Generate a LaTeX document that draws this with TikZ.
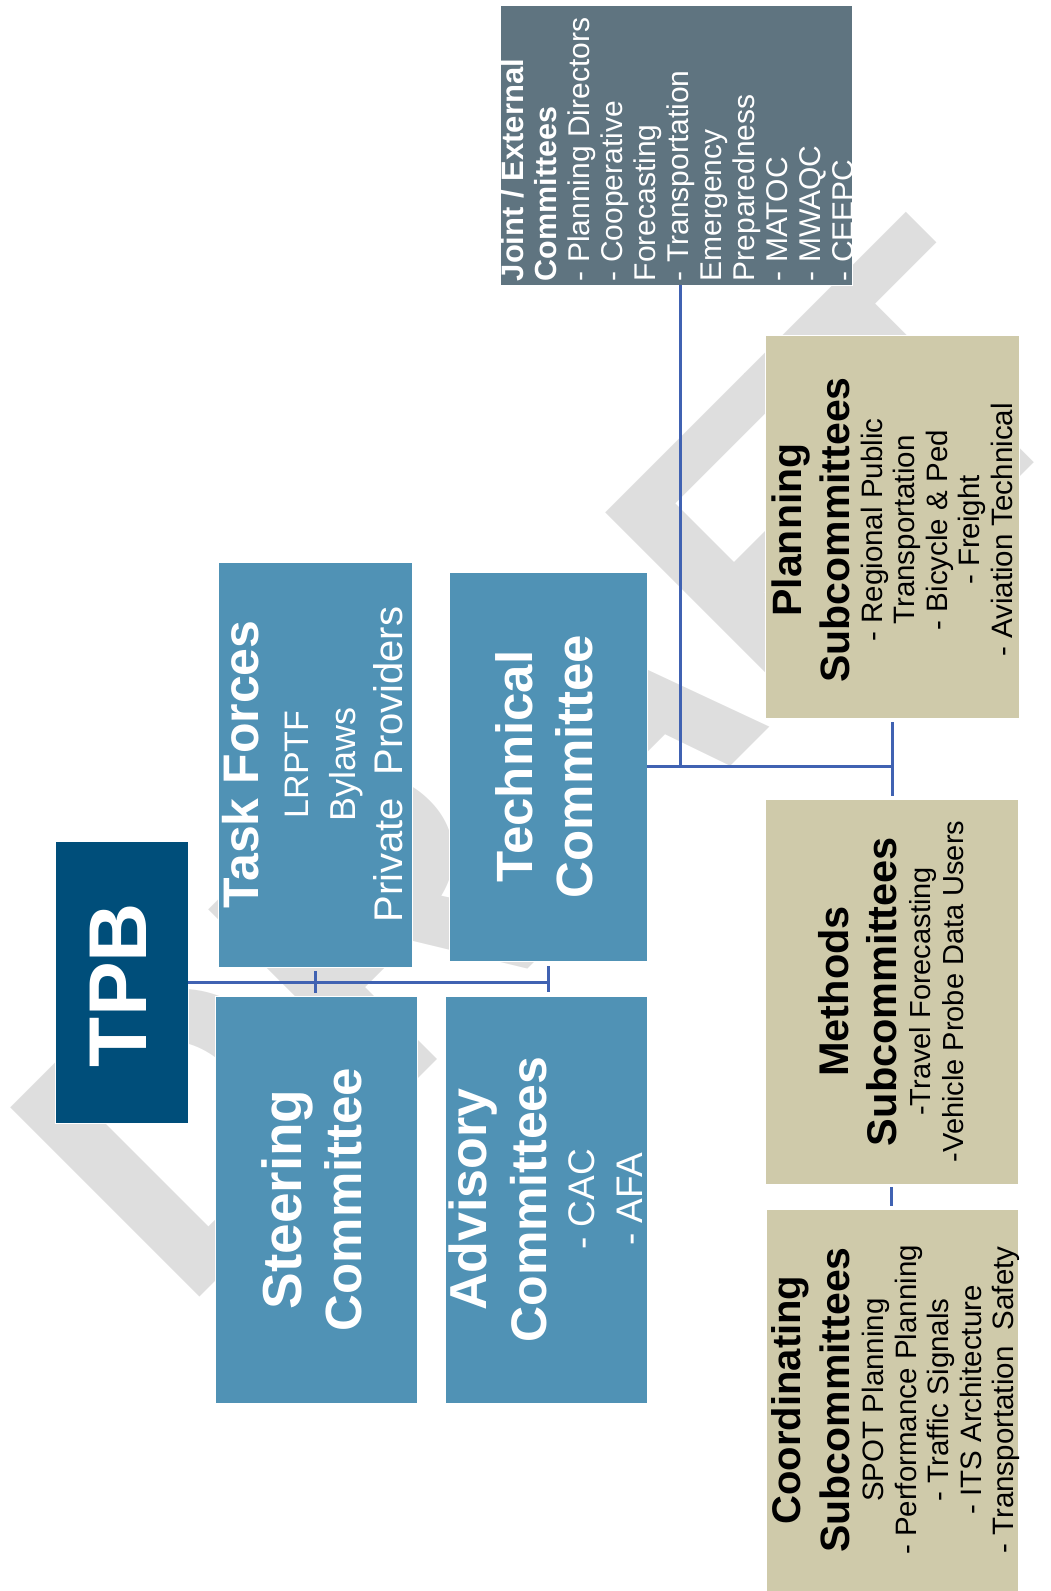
\documentclass[tikz,border=0pt]{standalone}
\usepackage{fontspec}
\setmainfont{Liberation Sans}
\newcommand\myfs[2]{\fontsize{#1}{#2}\selectfont\lineskiplimit=-500pt\relax}
\definecolor{cTpb}{HTML}{004E7A}
\definecolor{cBlue}{HTML}{5092B5}
\definecolor{cJoint}{HTML}{5F7480}
\definecolor{cTan}{HTML}{CFCAAA}
\definecolor{cLine}{HTML}{4062B2}
\definecolor{cWm}{HTML}{DEDEDE}
\begin{document}
\begin{tikzpicture}[x=1pt,y=-1pt,
  box/.style={rectangle, draw=white, line width=0.8pt, inner sep=0pt},
  txt/.style={inner sep=0pt, align=center, rotate=90},
  connline/.style={draw=cLine, line width=3pt}]
\useasboundingbox (0,0) rectangle (1051,1591);
% watermark
\node[anchor=base west, rotate=45, inner sep=0pt, text=cWm, font=\bfseries\myfs{389}{389}] (wm) at (181,1316) {DRAF\kern-20pt T};
% boxes
\node[box, fill=cTpb, minimum width=133pt, minimum height=282pt] (tpb) at (121.5,982) {};
\node[box, fill=cBlue, minimum width=194pt, minimum height=405pt] (task) at (315,764.5) {};
\node[box, fill=cBlue, minimum width=198pt, minimum height=389pt] (tech) at (548,766.5) {};
\node[box, fill=cBlue, minimum width=202pt, minimum height=407pt] (steer) at (316,1199.5) {};
\node[box, fill=cBlue, minimum width=202pt, minimum height=407pt] (adv) at (546,1199.5) {};
\node[box, fill=cJoint, minimum width=352pt, minimum height=280pt] (joint) at (676,145) {};
\node[box, fill=cTan, minimum width=254pt, minimum height=383pt] (plan) at (892,526.5) {};
\node[box, fill=cTan, minimum width=253pt, minimum height=385pt] (meth) at (891.5,991.5) {};
\node[box, fill=cTan, minimum width=252pt, minimum height=382pt] (coord) at (892,1400) {};
% connectors
\draw[connline] (tpb.east) -- (tpb.east -| tech.south);
\draw[connline, shorten <=4pt, shorten >=3pt] (task.south) -- (task.south |- steer.north);
\draw[connline, shorten <=5pt, shorten >=4pt] (tech.south) -- (tech.south |- adv.north);
\draw[connline] (tech.east) -- (tech.east -| meth.north);
\draw[connline] ([xshift=4pt]joint.south) -- ([xshift=4pt]joint.south |- tech.east);
\draw[connline, shorten <=4pt, shorten >=3pt] (plan.south) -- (plan.south |- meth.north);
\draw[connline, shorten <=3pt, shorten >=3pt] (meth.south) -- (meth.south |- coord.north);
% texts
\node[txt, text=white, font=\bfseries\myfs{82}{90}] (tpbT) at ([xshift=-3pt,yshift=-3pt]tpb.center) {TPB};
\node[txt, text=white, font=\myfs{38}{47}] (taskT) at ([xshift=-2pt]task.center)
  {{\bfseries\myfs{50}{47}Task Forces}\\[3pt]{\myfs{34}{47}LRPTF}\\{\myfs{36}{47}Bylaws}\\{\myfs{40}{47}Private\ \ Providers}};
\node[txt, text=white, font=\bfseries\myfs{51}{60}] (techT) at ([xshift=-4pt]tech.center) {Technical\\Committee};
\node[txt, text=white, font=\bfseries\myfs{51}{60}] (steerT) at ([xshift=-4pt]steer.center) {{\myfs{55}{60}Steering}\\Committee};
\node[txt, text=white, font=\myfs{37}{48}] (advT) at (adv.center)
  {{\bfseries\myfs{52}{48}Advisory}\\[12pt]{\bfseries\myfs{50}{48}Committees}\\- CAC\\- AFA};
\node[txt, text=white, align=left, anchor=north west, font=\myfs{30}{33}] (jointT) at ([xshift=1pt,yshift=4pt]joint.south west)
  {{\bfseries\myfs{31}{33}Joint / External}\\{\bfseries\myfs{30.5}{33}Committees}\\- Planning Directors\\- Cooperative\\Forecasting\\- Transportation\\Emergency\\Preparedness\\- MATOC\\- MWAQC\\- CEEPC};
\node[txt, font=\myfs{29.5}{32.5}] (planT) at ([yshift=-3.5pt]plan.center)
  {{\bfseries\myfs{41}{32.5}Planning}\\[15.5pt]{\bfseries\myfs{41}{32.5}Subcommittees}\\[0.5pt]- Regional Public\\Transportation\\- Bicycle \& Ped\\- Freight\\- Aviation Technical};
\node[txt, font=\myfs{29}{33}] (methT) at (meth.center)
  {{\bfseries\myfs{41.5}{33}Methods}\\[15pt]{\bfseries\myfs{41.5}{33}Subcommittees}\\[1pt]-Travel Forecasting\\-Vehicle Probe Data Users};
\node[txt, font=\myfs{29.5}{32.5}] (coordT) at ([xshift=4pt]coord.center)
  {{\bfseries\myfs{40}{32.5}Coordinating}\\[16.5pt]{\bfseries\myfs{41}{32.5}Subcommittees}\\[1.5pt]SPOT Planning\\- Performance Planning\\- Traffic Signals\\- ITS Architecture\\- Transportation\ \ Safety};
\end{tikzpicture}
\end{document}
